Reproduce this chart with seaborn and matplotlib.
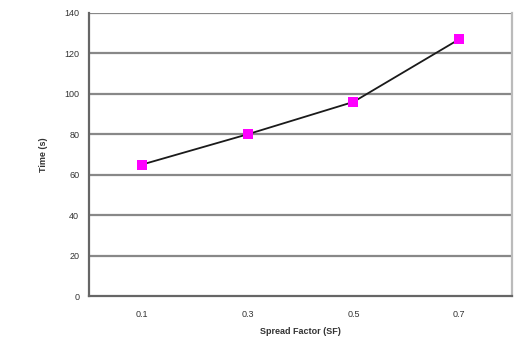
import matplotlib
matplotlib.use("Agg")
import matplotlib.pyplot as plt
import seaborn as sns
import pandas as pd
from matplotlib.ticker import FixedLocator

spread_factor = ["0.1", "0.3", "0.5", "0.7"]
time_s = [65, 80, 96, 127]
y_ticks = [0, 20, 40, 60, 80, 100, 120, 140]

df = pd.DataFrame({"sf": spread_factor, "time": time_s})

sns.set_theme(style="white")
plt.rcParams["font.family"] = ["Liberation Sans", "DejaVu Sans"]

fig = plt.figure(figsize=(5.22, 3.44), dpi=100)
ax = fig.add_axes([89/522, 1 - 296/344, (512-89)/522, (296-13)/344])

pos = list(range(len(spread_factor)))
sns.lineplot(x=pos, y=time_s, ax=ax, color="#1a1a1a", linewidth=1.3, zorder=3)
sns.scatterplot(x=pos, y=time_s, ax=ax, color="#ff00ff", marker="s", s=50,
                edgecolor="none", zorder=4)

ax.set_xlim(-0.5, len(spread_factor) - 0.5)
ax.set_ylim(0, 140)
ax.set_yticks(y_ticks)
ax.set_yticklabels([str(v) for v in y_ticks], fontsize=6.5, color="#333333")
ax.set_xticks(pos)
ax.set_xticklabels(spread_factor, fontsize=6.5, color="#333333")
ax.xaxis.set_minor_locator(FixedLocator([0.5, 1.5, 2.5]))
ax.tick_params(axis="x", which="major", length=0, pad=10)
ax.tick_params(axis="x", which="minor", length=3, width=1, color="#555555", direction="out")
ax.tick_params(axis="y", which="major", length=3, width=1, color="#555555", direction="out", pad=4)

for v in y_ticks[1:]:
    ax.axhline(v, color="#888888", linewidth=1.6, zorder=1)

for s in ["left", "bottom"]:
    ax.spines[s].set_color("#666666")
    ax.spines[s].set_linewidth(1.6)
ax.spines["top"].set_visible(False)
ax.spines["right"].set_color("#bbbbbb")
ax.spines["right"].set_linewidth(1.6)

ax.set_xlabel("Spread Factor (SF)", fontsize=6.5, fontweight="bold", color="#333333", labelpad=6)
ax.set_ylabel("Time (s)", fontsize=6.5, fontweight="bold", color="#333333", labelpad=12)

fig.savefig("out.png", dpi=100)
